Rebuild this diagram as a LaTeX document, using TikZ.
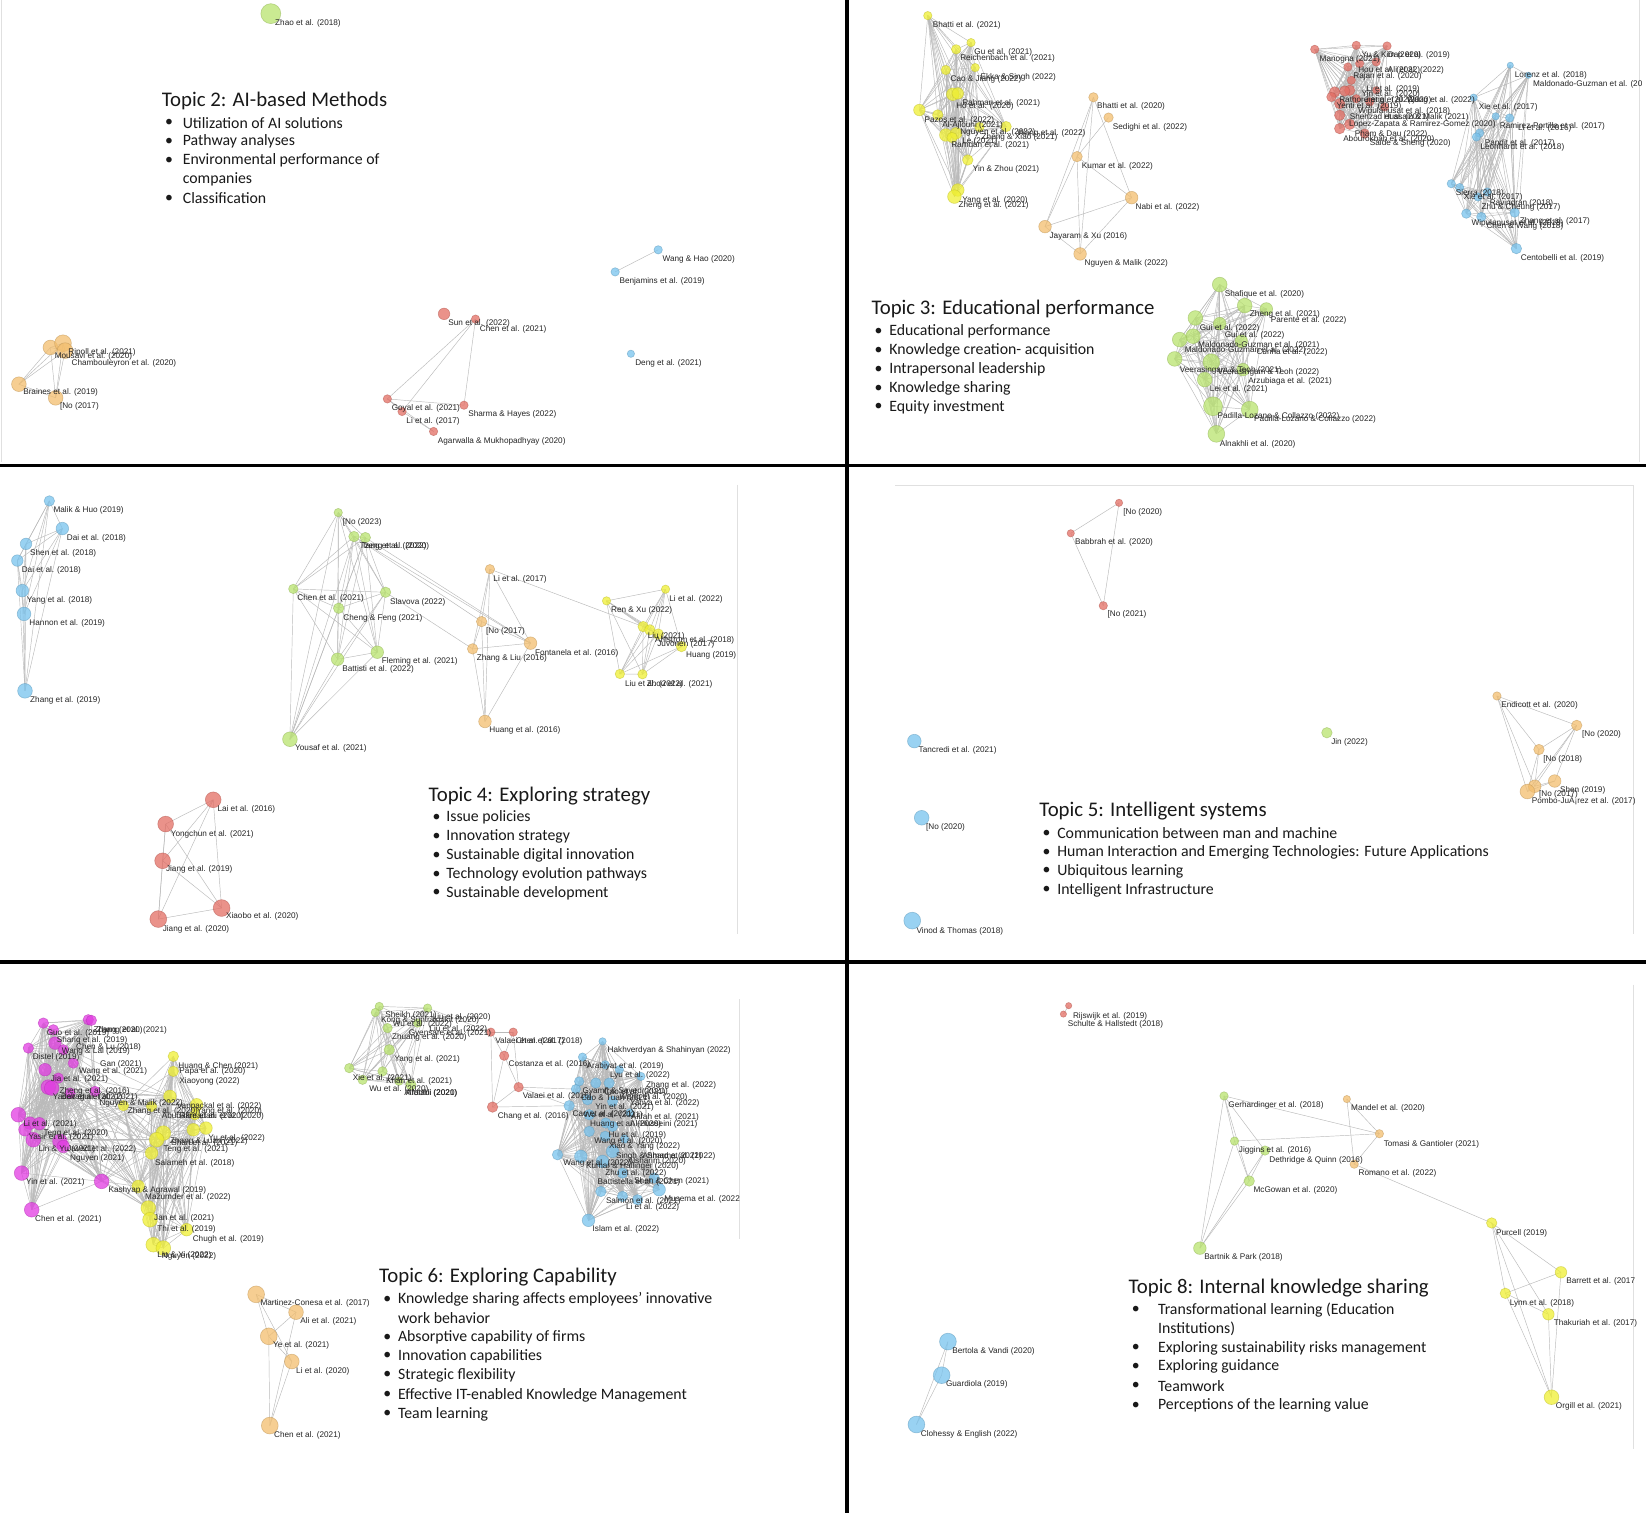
\documentclass[tikz,border=0pt]{standalone}
\usepackage{fontspec}
\setmainfont{Carlito}
\newfontfamily\labfont{Liberation Sans}
\pgfdeclarelayer{edgelayer}
\pgfsetlayers{edgelayer,main}
\definecolor{cG}{RGB}{185,228,110}
\definecolor{cY}{RGB}{240,240,50}
\definecolor{cO}{RGB}{243,190,110}
\definecolor{cR}{RGB}{228,110,100}
\definecolor{cB}{RGB}{120,195,238}
\definecolor{cM}{RGB}{226,60,226}
\tikzset{
 gnode/.style={circle,inner sep=0pt,fill opacity=0.75,draw opacity=0.55,line width=0.6pt},
 glab/.style={anchor=west,inner sep=0pt,font=\labfont\fontsize{8.2}{9}\selectfont,text=black!85},
 edge/.style={draw=black!27,line width=0.45pt},
 head/.style={anchor=west,inner sep=0pt,font=\fontsize{20.8}{24}\selectfont,text=black!90},
 btxt/.style={anchor=west,inner sep=0pt,font=\fontsize{15.8}{18}\selectfont,text=black!90},
 divider/.style={draw=black,line width=3.8pt},
 pframe/.style={draw=black!12,line width=0.8pt}
}
\newcommand\gnd[5]{\node[gnode,fill=#5,draw=#5!80!black,minimum size={2.1pt*#4}] (#1) at (#2,#3) {};}
\newcommand\glb[4]{\node[glab] (#1) at (#2,#3) {#4};}
\newcommand\meshall[1]{\foreach \pa [count=\ci] in {#1}{\foreach \pb [count=\cj] in {#1}{\ifnum\cj>\ci\relax\draw[edge] (\pa.center) -- (\pb.center);\fi}}}
\newcommand\crossedges[2]{\foreach \pa in {#1}{\foreach \pb in {#2}{\draw[edge] (\pa.center) -- (\pb.center);}}}
\newcommand\edg[1]{\foreach \pa/\pb in {#1}{\draw[edge] (\pa.center) -- (\pb.center);}}
\newcommand\bitem[5]{\node[btxt] (#1d) at (#2,#4) {•}; \node[btxt] (#1) at (#3,#4) {#5};}
\newcommand\bcont[4]{\node[btxt] (#1) at (#2,#3) {#4};}
\begin{document}
\begin{tikzpicture}[x=1.05pt,y=-1.05pt]
\useasboundingbox (0,0) rectangle (1568,1441);
\begin{pgfonlayer}{edgelayer}
\fill[white] (0,0) rectangle (1568,1441);
\end{pgfonlayer}
% light panel frames
\draw[pframe] (1.5,0) -- (1.5,440);
\draw[pframe] (1562,0) -- (1562,440);
\draw[pframe] (702,462) -- (702,890);
\draw[pframe] (853,462) -- (1556,462) -- (1556,890);
\draw[pframe] (704,952) -- (704,1180);
\draw[pframe] (1556,938) -- (1556,1380);
% dividers
\draw[divider] (806.5,0) -- (806.5,1441);
\draw[divider] (0,443.5) -- (1568,443.5);
\draw[divider] (0,916.5) -- (1568,916.5);

%%%%%%%%%%%%%%%% NODES %%%%%%%%%%%%%%%%
% Topic 2
\gnd{aZhao}{258}{13}{9.5}{cG}
\gnd{aMou}{48}{331}{7}{cO}
\gnd{aRip}{60}{327}{8}{cO}
\gnd{aCha}{62}{334}{7.5}{cO}
\gnd{aBra}{18}{366}{7}{cO}
\gnd{aNo}{53}{379}{7}{cO}
\gnd{aSun}{423}{299}{5.5}{cR}
\gnd{aChen}{453}{304}{4}{cR}
\gnd{aGoy}{369}{380}{4}{cR}
\gnd{aLi}{383}{392}{4}{cR}
\gnd{aSha}{442}{386}{4}{cR}
\gnd{aAga}{413}{411}{4}{cR}
\gnd{aWang}{627}{238}{4}{cB}
\gnd{aBen}{586}{259}{4}{cB}
\gnd{aDeng}{601}{337}{3.5}{cB}
% Topic 3
\gnd{bY1}{883.8}{14.9}{4}{cY}
\gnd{bY2}{925}{40.6}{4}{cY}
\gnd{bY3}{910.8}{47}{4.5}{cY}
\gnd{bY4}{901}{66.7}{4.5}{cY}
\gnd{bY5}{929}{64.4}{4}{cY}
\gnd{bY6}{907.6}{89.8}{6}{cY}
\gnd{bY7}{912.4}{89}{5.5}{cY}
\gnd{bY8}{875.8}{104.8}{5.5}{cY}
\gnd{bY9}{893.3}{109.5}{5}{cY}
\gnd{bY10}{901}{128.6}{6}{cY}
\gnd{bY11}{910.8}{127}{5.5}{cY}
\gnd{bY12}{907}{131}{5}{cY}
\gnd{bY13}{958.4}{120.6}{5}{cY}
\gnd{bY14}{921.9}{152.4}{5}{cY}
\gnd{bY15}{912.4}{181}{6}{cY}
\gnd{bY16}{909.2}{187.3}{6.5}{cY}
\gnd{bY17}{933}{121}{4.5}{cY}
\gnd{bO1}{1041.6}{92.7}{4.5}{cO}
\gnd{bO2}{1056}{112}{4.5}{cO}
\gnd{bO3}{1026}{149.2}{5}{cO}
\gnd{bO4}{1078}{188.3}{6}{cO}
\gnd{bO5}{995.5}{215.9}{6}{cO}
\gnd{bO6}{1028.9}{241.9}{6}{cO}
\gnd{bR1}{1252.4}{47}{4}{cR}
\gnd{bR2}{1292}{43.2}{4}{cR}
\gnd{bR3}{1321.3}{43.8}{4}{cR}
\gnd{bR4}{1311}{59}{4}{cR}
\gnd{bR5}{1284}{63.8}{4}{cR}
\gnd{bR6}{1295.2}{60.6}{4}{cR}
\gnd{bR7}{1287.3}{76.5}{4}{cR}
\gnd{bR8}{1285.7}{86}{5}{cR}
\gnd{bR9}{1281}{86.7}{5}{cR}
\gnd{bR10}{1271.4}{87.6}{5}{cR}
\gnd{bR11}{1268.3}{92.4}{4.5}{cR}
\gnd{bR12}{1276.2}{98.7}{5}{cR}
\gnd{bR13}{1292}{94}{4}{cR}
\gnd{bR14}{1304.8}{97.1}{4}{cR}
\gnd{bR15}{1319}{101.9}{4}{cR}
\gnd{bR16}{1276.2}{109.8}{5}{cR}
\gnd{bR17}{1285.7}{118.4}{5}{cR}
\gnd{bR18}{1276.2}{122.5}{5}{cR}
\gnd{bR19}{1300}{127.3}{4.5}{cR}
\gnd{bR20}{1311}{86}{3.5}{cR}
\gnd{bB1}{1438.7}{62.2}{3}{cB}
\gnd{bB2}{1456}{71.7}{3}{cB}
\gnd{bB3}{1403.8}{93}{3.5}{cB}
\gnd{bB4}{1424.8}{110.8}{3.5}{cB}
\gnd{bB5}{1438.1}{112.4}{4}{cB}
\gnd{bB6}{1409.5}{126.7}{4}{cB}
\gnd{bB7}{1406.4}{130.5}{4}{cB}
\gnd{bB8}{1382.5}{175}{4}{cB}
\gnd{bB9}{1390.5}{178.7}{4}{cB}
\gnd{bB10}{1407.9}{187.6}{4}{cB}
\gnd{bB11}{1416.8}{182.9}{4}{cB}
\gnd{bB12}{1396.8}{203.5}{4.5}{cB}
\gnd{bB13}{1411.1}{206.7}{4.5}{cB}
\gnd{bB14}{1442.9}{202.5}{4.5}{cB}
\gnd{bB15}{1444.5}{236.8}{5}{cB}
\gnd{bG1}{1161.9}{271.1}{7}{cG}
\gnd{bG2}{1185.7}{291.1}{7}{cG}
\gnd{bG3}{1206.3}{294.3}{6}{cG}
\gnd{bG4}{1138.7}{302.9}{7}{cG}
\gnd{bG5}{1161.9}{308.3}{6}{cG}
\gnd{bG6}{1136.5}{320.3}{7}{cG}
\gnd{bG7}{1123.8}{323.5}{7}{cG}
\gnd{bG8}{1182.5}{325.1}{6}{cG}
\gnd{bG9}{1119}{341.9}{7}{cG}
\gnd{bG10}{1153.9}{345.1}{8}{cG}
\gnd{bG11}{1184.1}{352.1}{6}{cG}
\gnd{bG12}{1147.6}{361.6}{7}{cG}
\gnd{bG13}{1155.5}{387}{9}{cG}
\gnd{bG14}{1190.5}{390.2}{8}{cG}
\gnd{bG15}{1158.7}{413.3}{8}{cG}
% Topic 4
\gnd{cB1}{47}{477.2}{5}{cB}
\gnd{cB2}{59.4}{503.5}{6}{cB}
\gnd{cB3}{24.8}{518.1}{5.5}{cB}
\gnd{cB4}{16.5}{534}{5.5}{cB}
\gnd{cB5}{21.3}{562.6}{6}{cB}
\gnd{cB6}{22.9}{584.8}{6.5}{cB}
\gnd{cB7}{23.8}{658.1}{7}{cB}
\gnd{cG1}{322.2}{488.3}{4}{cG}
\gnd{cG2}{337.2}{511.1}{5}{cG}
\gnd{cG3}{348}{512.1}{5}{cG}
\gnd{cG4}{279.4}{561}{4.5}{cG}
\gnd{cG5}{367.3}{564.2}{5}{cG}
\gnd{cG6}{322.6}{579.4}{5}{cG}
\gnd{cG7}{359.4}{621.3}{6}{cG}
\gnd{cG8}{321.6}{628}{6}{cG}
\gnd{cG9}{276.2}{704.2}{7}{cG}
\gnd{cO1}{466.7}{542.2}{4.5}{cO}
\gnd{cO2}{458.8}{592.1}{5}{cO}
\gnd{cO3}{450.2}{618.1}{5}{cO}
\gnd{cO4}{505.4}{612.7}{6}{cO}
\gnd{cO5}{462}{687.3}{6}{cO}
\gnd{cY1}{577.8}{572.4}{4}{cY}
\gnd{cY2}{634}{561.3}{4}{cY}
\gnd{cY3}{612.7}{596.9}{5}{cY}
\gnd{cY4}{619}{600}{5}{cY}
\gnd{cY8}{627}{604}{5}{cY}
\gnd{cY5}{649.2}{615.9}{5}{cY}
\gnd{cY6}{590.5}{642}{4.5}{cY}
\gnd{cY7}{612}{642.3}{4.5}{cY}
\gnd{cR1}{203.1}{761.9}{7.5}{cR}
\gnd{cR2}{157.8}{785}{7.5}{cR}
\gnd{cR3}{154.9}{820}{7.5}{cR}
\gnd{cR4}{211.1}{865}{8}{cR}
\gnd{cR5}{150.8}{875.5}{8}{cR}
% Topic 5
\gnd{dR1}{1066}{479}{3.5}{cR}
\gnd{dR2}{1020}{508}{3.5}{cR}
\gnd{dR3}{1051}{577}{4}{cR}
\gnd{dB1}{871}{706}{6.5}{cB}
\gnd{dB2}{878}{779}{7}{cB}
\gnd{dB3}{869}{877}{8}{cB}
\gnd{dG1}{1264}{698}{5}{cG}
\gnd{dO1}{1426}{663}{4}{cO}
\gnd{dO2}{1502}{691}{5}{cO}
\gnd{dO3}{1466}{714}{5}{cO}
\gnd{dO4}{1481}{744}{6}{cO}
\gnd{dO5}{1462}{749}{6}{cO}
\gnd{dO6}{1455}{754}{7}{cO}
% Topic 6
\gnd{eM1}{41.3}{974.6}{5}{cM}
\gnd{eM2}{84.1}{971.4}{5}{cM}
\gnd{eM3}{87}{972}{5}{cM}
\gnd{eM4}{50.8}{981}{5}{cM}
\gnd{eM5}{52.4}{993.7}{6}{cM}
\gnd{eM6}{27}{998.4}{5}{cM}
\gnd{eM7}{60.3}{1000}{5}{cM}
\gnd{eM8}{69.8}{1012.7}{5}{cM}
\gnd{eM9}{42.9}{1019}{6}{cM}
\gnd{eM10}{55.6}{1027}{5}{cM}
\gnd{eM11}{46}{1035.6}{7}{cM}
\gnd{eM12}{49.2}{1036.5}{7}{cM}
\gnd{eM13}{66.7}{1041.3}{5}{cM}
\gnd{eM14}{90.5}{1039.7}{5}{cM}
\gnd{eM15}{17.5}{1061.9}{7}{cM}
\gnd{eM16}{28.6}{1069.9}{6}{cM}
\gnd{eM17}{37.5}{1070.5}{6}{cM}
\gnd{eM18}{23.8}{1076.2}{6}{cM}
\gnd{eM19}{31.7}{1085.7}{7}{cM}
\gnd{eM20}{57.1}{1087.3}{7}{cM}
\gnd{eM21}{60.3}{1092.1}{6}{cM}
\gnd{eM22}{20.6}{1117.5}{7}{cM}
\gnd{eM23}{96.8}{1125.4}{7}{cM}
\gnd{eM24}{30.2}{1152.4}{7}{cM}
\gnd{eY1}{165.1}{1006.3}{5}{cY}
\gnd{eY2}{165.1}{1020.6}{5}{cY}
\gnd{eY3}{161.9}{1044.4}{6}{cY}
\gnd{eY4}{117.5}{1053.3}{5}{cY}
\gnd{eY5}{144.4}{1054}{5}{cY}
\gnd{eY6}{187.3}{1052.4}{6}{cY}
\gnd{eY7}{185.7}{1061.9}{5}{cY}
\gnd{eY8}{155.6}{1079.4}{7}{cY}
\gnd{eY9}{149.2}{1085.7}{7}{cY}
\gnd{eY10}{184.1}{1076.2}{6}{cY}
\gnd{eY11}{196.2}{1074.6}{6}{cY}
\gnd{eY12}{144.4}{1098.4}{6}{cY}
\gnd{eY13}{131.7}{1130.2}{6}{cY}
\gnd{eY14}{141.3}{1150.8}{7}{cY}
\gnd{eY15}{142.9}{1161.9}{7}{cY}
\gnd{eY16}{177.8}{1171.4}{6}{cY}
\gnd{eY17}{146}{1185.7}{7}{cY}
\gnd{eY18}{155.6}{1188.9}{7}{cY}
\gnd{eG1}{361.3}{958.7}{4}{cG}
\gnd{eG2}{357.5}{964.5}{4}{cG}
\gnd{eG3}{407.3}{960.3}{4}{cG}
\gnd{eG4}{397.8}{974.6}{4}{cG}
\gnd{eG5}{369.2}{979.4}{4.5}{cG}
\gnd{eG6}{370.8}{1000}{5}{cG}
\gnd{eG7}{364.4}{1020.6}{4.5}{cG}
\gnd{eG8}{332.7}{1017.5}{4.5}{cG}
\gnd{eG9}{345.4}{1028.6}{4.5}{cG}
\gnd{eG10}{391.4}{1033.3}{5}{cG}
\gnd{eG11}{380}{1030}{4}{cG}
\gnd{eR1}{467.6}{983.2}{4}{cR}
\gnd{eR2}{488.9}{983.2}{4}{cR}
\gnd{eR3}{480.3}{1005.7}{4.5}{cR}
\gnd{eR4}{494}{1035.6}{4.5}{cR}
\gnd{eR5}{469.2}{1054.6}{5}{cR}
\gnd{eB1}{574}{992}{3.5}{cB}
\gnd{eB2}{554.9}{1007}{4}{cB}
\gnd{eB3}{576.5}{1014.3}{4}{cB}
\gnd{eB4}{590}{1019}{4}{cB}
\gnd{eB5}{610.5}{1025.4}{4}{cB}
\gnd{eB6}{551.7}{1030.2}{4.5}{cB}
\gnd{eB7}{548.6}{1037.5}{4.5}{cB}
\gnd{eB8}{567.6}{1031.7}{5}{cB}
\gnd{eB9}{580.3}{1031.7}{5}{cB}
\gnd{eB10}{542.2}{1053.3}{5}{cB}
\gnd{eB11}{559.7}{1047.6}{5}{cB}
\gnd{eB12}{583.5}{1049.2}{5}{cB}
\gnd{eB13}{561.3}{1061.9}{5}{cB}
\gnd{eB14}{577.1}{1069.8}{5}{cB}
\gnd{eB15}{561.3}{1077.8}{5}{cB}
\gnd{eB16}{583.5}{1073}{5}{cB}
\gnd{eB17}{576.5}{1082.5}{5}{cB}
\gnd{eB18}{531.1}{1100}{5}{cB}
\gnd{eB19}{553.3}{1101.6}{6}{cB}
\gnd{eB20}{574}{1106.4}{6}{cB}
\gnd{eB21}{583.5}{1096.8}{6}{cB}
\gnd{eB22}{593}{1117.5}{5}{cB}
\gnd{eB23}{623.2}{1122.2}{5}{cB}
\gnd{eB24}{627.9}{1133.3}{6}{cB}
\gnd{eB25}{572.4}{1135}{5}{cB}
\gnd{eB26}{593}{1139.7}{5}{cB}
\gnd{eB27}{607.3}{1142.9}{5}{cB}
\gnd{eB28}{560.6}{1162.5}{6}{cB}
\gnd{eB29}{600}{1060}{4}{cB}
\gnd{eB30}{595}{1085}{4}{cB}
\gnd{eO1}{244}{1233}{8}{cO}
\gnd{eO2}{282}{1250}{7}{cO}
\gnd{eO3}{256}{1273}{8}{cO}
\gnd{eO4}{278}{1297}{7}{cO}
\gnd{eO5}{257}{1358}{8}{cO}
% Topic 8
\gnd{fR1}{1018}{958}{3}{cR}
\gnd{fR2}{1013}{966}{3}{cR}
\gnd{fG1}{1166}{1044}{4}{cG}
\gnd{fG2}{1176}{1087}{4}{cG}
\gnd{fG3}{1205}{1096}{4.5}{cG}
\gnd{fG4}{1190}{1125}{5}{cG}
\gnd{fG5}{1143}{1189}{6}{cG}
\gnd{fO1}{1283}{1047}{3.5}{cO}
\gnd{fO2}{1314}{1080}{4}{cO}
\gnd{fO3}{1290}{1109}{4}{cO}
\gnd{fY1}{1421}{1165}{5}{cY}
\gnd{fY2}{1487}{1212}{5.5}{cY}
\gnd{fY3}{1434}{1232}{5}{cY}
\gnd{fY4}{1475}{1252}{5.5}{cY}
\gnd{fY5}{1478}{1331}{7}{cY}
\gnd{fB1}{903}{1278}{8}{cB}
\gnd{fB2}{897}{1310}{8}{cB}
\gnd{fB3}{873}{1357}{8}{cB}

%%%%%%%%%%%%%%%% EDGES (one layer) %%%%%%%%%%%%%%%%
\begin{pgfonlayer}{edgelayer}
\meshall{aMou,aRip,aCha,aBra,aNo}
\edg{aChen/aGoy,aChen/aLi,aChen/aSha,aGoy/aSha,aGoy/aLi,aGoy/aAga,aLi/aAga,aWang/aBen}
\meshall{bY1,bY2,bY3,bY4,bY5,bY6,bY7,bY8,bY9,bY10,bY11,bY12,bY13,bY14,bY15,bY16,bY17}
\edg{bO1/bO3,bO1/bO4,bO1/bO5,bO1/bO6,bO2/bO3,bO3/bO4,bO3/bO5,bO3/bO6,bO4/bO5,bO4/bO6,bO5/bO6}
\meshall{bR1,bR2,bR3,bR4,bR5,bR6,bR7,bR8,bR9,bR10,bR11,bR12,bR13,bR14,bR15,bR16,bR17,bR18,bR19,bR20}
\meshall{bB1,bB2,bB3,bB4,bB5,bB6,bB7,bB8,bB9,bB10,bB11,bB12,bB13,bB14,bB15}
\meshall{bG1,bG2,bG3,bG4,bG5,bG6,bG7,bG8,bG9,bG10,bG11,bG12,bG13,bG14,bG15}
\meshall{cB1,cB2,cB3,cB4,cB5,cB6,cB7}
\meshall{cG1,cG2,cG3,cG4,cG5,cG6,cG7,cG8,cG9}
\meshall{cO1,cO2,cO3,cO4,cO5}
\edg{cG2/cO2,cG2/cO4,cG3/cO4,cG5/cO3,cO1/cY3}
\meshall{cY1,cY2,cY3,cY4,cY8,cY5,cY6,cY7}
\meshall{cR1,cR2,cR3,cR4,cR5}
\meshall{dR1,dR2,dR3}
\edg{dO1/dO2,dO1/dO3,dO1/dO6,dO1/dO5,dO2/dO3,dO2/dO5,dO2/dO6,dO2/dO4,dO3/dO6,dO3/dO5,dO4/dO5,dO4/dO6}
\meshall{eM1,eM2,eM3,eM4,eM5,eM6,eM7,eM8,eM9,eM10,eM11,eM12,eM13,eM14,eM15,eM16,eM17,eM18,eM19,eM20,eM21,eM22,eM23,eM24}
\meshall{eY1,eY2,eY3,eY4,eY5,eY6,eY7,eY8,eY9,eY10,eY11,eY12,eY13,eY14,eY15,eY16,eY17,eY18}
\crossedges{eM5,eM9,eM11,eM13,eM14,eM15,eM19,eM20,eM23}{eY3,eY4,eY5,eY9,eY12,eY13,eY14}
\meshall{eG1,eG2,eG3,eG4,eG5,eG6,eG7,eG8,eG9,eG10,eG11}
\edg{eR1/eR2,eR1/eR3,eR1/eR5,eR2/eR3,eR2/eR4,eR3/eR4,eR3/eR5,eR4/eR5,eG3/eR1}
\meshall{eB1,eB2,eB3,eB4,eB5,eB6,eB7,eB8,eB9,eB10,eB11,eB12,eB13,eB14,eB15,eB16,eB17,eB18,eB19,eB20,eB21,eB22,eB23,eB24,eB25,eB26,eB27,eB28,eB29,eB30}
\edg{eR4/eB10,eR5/eB10,eR4/eB7}
\edg{eO1/eO3,eO1/eO4,eO2/eO3,eO2/eO5,eO3/eO5,eO4/eO5,eO1/eO2,eO3/eO4}
\edg{fR1/fR2,fG1/fG2,fG1/fG3,fG1/fG4,fG1/fG5,fG1/fO2,fG2/fO2,fG2/fG4,fG2/fG5,fG3/fG5,fG3/fG4,fG4/fG5,fO1/fO2,fO1/fO3,fO2/fO3,fO3/fY1,fY1/fY2,fY1/fY3,fY1/fY4,fY1/fY5,fY2/fY3,fY2/fY5,fY3/fY4,fY3/fY5,fY4/fY5,fB1/fB2,fB2/fB3,fB1/fB3}
\end{pgfonlayer}

%%%%%%%%%%%%%%%% LABELS AND TEXT %%%%%%%%%%%%%%%%
% Topic 2
\glb{aZhaoT}{262}{22}{Zhao et al. (2018)}
\node[head] (h2) at (154,96) {Topic 2: AI-based Methods};
\bitem{b2a}{157}{174}{117}{Utilization of AI solutions}
\bitem{b2b}{157}{174}{135}{Pathway analyses}
\bitem{b2c}{157}{174}{153}{Environmental performance of}
\bcont{b2d}{174}{171}{companies}
\bitem{b2e}{157}{174}{189}{Classification}
\glb{aRipT}{65}{336}{Ripoll et al. (2021)}
\glb{aMouT}{52}{339.5}{Mousavi et al. (2020)}
\glb{aChaT}{68}{346}{Chambouleyron et al. (2020)}
\glb{aBraT}{22}{374}{Braines et al. (2019)}
\glb{aNoT}{57}{387}{[No (2017)}
\glb{aSunT}{427}{308}{Sun et al. (2022)}
\glb{aChenT}{457}{314}{Chen et al. (2021)}
\glb{aGoyT}{373}{389}{Goyal et al. (2021)}
\glb{aLiT}{387}{401}{Li et al. (2017)}
\glb{aShaT}{446}{395}{Sharma \& Hayes (2022)}
\glb{aAgaT}{417}{420}{Agarwalla \& Mukhopadhyay (2020)}
\glb{aWangT}{631}{247}{Wang \& Hao (2020)}
\glb{aBenT}{590}{268}{Benjamins et al. (2019)}
\glb{aDengT}{605}{346}{Deng et al. (2021)}
% Topic 3
\glb{bYt1}{888.5}{23.8}{Bhatti et al. (2021)}
\glb{bYt2}{928}{49.8}{Gu et al. (2021)}
\glb{bYt3}{914.6}{55.6}{Reichenbach et al. (2021)}
\glb{bYt4}{905.4}{75.2}{Cao \& Jiang (2022)}
\glb{bYt5}{934}{74}{Ekka \& Singh (2022)}
\glb{bYt6}{910.8}{101}{Ho et al. (2020)}
\glb{bYt7}{916.5}{98.7}{Rahman et al. (2021)}
\glb{bYt8}{880.6}{114.3}{Pazos et al. (2022)}
\glb{bYt9}{897.4}{119.7}{Al-Ajlouni (2021)}
\glb{bYt10}{914.6}{126}{Nguyen et al. (2022)}
\glb{bYt11}{935}{130.5}{Zheng \& Xiao (2021)}
\glb{bYt12}{969}{127.5}{Wang et al. (2022)}
\glb{bYt13}{916.5}{134.5}{Le (2021)}
\glb{bYt14}{906}{138.5}{Ramdan et al. (2021)}
\glb{bYt15}{926.6}{161}{Yin \& Zhou (2021)}
\glb{bYt16}{916.5}{190.5}{Yang et al. (2020)}
\glb{bYt17}{913}{196}{Zheng et al. (2021)}
\glb{bOt1}{1045}{101.6}{Bhatti et al. (2020)}
\glb{bOt2}{1060}{121.3}{Sedighi et al. (2022)}
\glb{bOt3}{1030.5}{158.7}{Kumar et al. (2022)}
\glb{bOt4}{1081.6}{197.5}{Nabi et al. (2022)}
\glb{bOt5}{999.7}{225.4}{Jayaram \& Xu (2016)}
\glb{bOt6}{1033}{250.8}{Nguyen \& Malik (2022)}
\glb{bRt1}{1257}{56.5}{Manogna (2021)}
\glb{bRt2}{1296.8}{52.7}{Yu \& Kim (2020)}
\glb{bRt3}{1322}{52.7}{Dao et al. (2019)}
\glb{bRt4}{1293.7}{67}{Hou et al. (2022)}
\glb{bRt5}{1322}{67}{Ali et al. (2022)}
\glb{bRt6}{1289}{72.7}{Rajan et al. (2020)}
\glb{bRt7}{1301.6}{85}{Li et al. (2019)}
\glb{bRt8}{1296.8}{89.8}{Yin et al. (2020)}
\glb{bRt9}{1275.6}{95.6}{Rathore et al. (2022)}
\glb{bRt10}{1300}{95.6}{Jiang et al. (2020)}
\glb{bRt11}{1340}{95.6}{Wang et al. (2022)}
\glb{bRt12}{1273}{101.3}{Yenti et al. (2019)}
\glb{bRt13}{1293.7}{105.7}{Wipulanusat et al. (2018)}
\glb{bRt14}{1285.7}{112}{Shehzad et al. (2021)}
\glb{bRt15}{1318}{112}{Hussain \& Malik (2021)}
\glb{bRt16}{1285.1}{118.4}{Lopez-Zapata \& Ramirez-Gomez (2020)}
\glb{bRt17}{1290.5}{128}{Pham \& Dau (2022)}
\glb{bRt18}{1279.4}{132.5}{Abourokbah et al. (2020)}
\glb{bRt19}{1304.8}{136.2}{Saide \& Sheng (2020)}
\glb{bBt1}{1442.9}{71.7}{Lorenz et al. (2018)}
\glb{bBt2}{1460.3}{80.6}{Maldonado-Guzman et al. (20}
\glb{bBt3}{1408.6}{102.5}{Xie et al. (2017)}
\glb{bBt4}{1428.6}{120.3}{Ramirez-Portilla et al. (2017)}
\glb{bBt5}{1446}{122.5}{Li et al. (2016)}
\glb{bBt6}{1414.3}{136.2}{Pandit et al. (2017)}
\glb{bBt7}{1410.2}{140}{Leonhardt et al. (2018)}
\glb{bBt8}{1386.7}{184.4}{Sierra (2018)}
\glb{bBt9}{1394.3}{188.3}{Xie et al. (2017)}
\glb{bBt10}{1419}{193.3}{Ravindran (2018)}
\glb{bBt11}{1411.1}{197.8}{Zhu \& Cheung (2017)}
\glb{bBt12}{1401.6}{213}{Wipulanusat et al. (2018)}
\glb{bBt13}{1415.9}{215.6}{Chen \& Wang (2018)}
\glb{bBt14}{1447.6}{210.8}{Zhang et al. (2017)}
\glb{bBt15}{1448.6}{246.3}{Centobelli et al. (2019)}
\glb{bGt1}{1166.6}{280.6}{Shafique et al. (2020)}
\glb{bGt2}{1190.5}{299.7}{Zheng et al. (2021)}
\glb{bGt3}{1210.5}{305}{Parente et al. (2022)}
\glb{bGt4}{1142.8}{312.4}{Gui et al. (2022)}
\glb{bGt5}{1166.6}{319.7}{Gui et al. (2022)}
\glb{bGt6}{1141.2}{329.2}{Maldonado-Guzman et al. (2021)}
\glb{bGt7}{1128.5}{333.7}{Maldonado-Guzman et al. (2022)}
\glb{bGt8}{1196.8}{335.6}{Cunha et al. (2022)}
\glb{bGt9}{1123.8}{352.7}{Veerasingam \& Teoh (2021)}
\glb{bGt10}{1159.7}{355.2}{Veerasingam \& Teoh (2022)}
\glb{bGt11}{1188.9}{363.2}{Arzubiaga et al. (2021)}
\glb{bGt12}{1152.4}{370.5}{Lei et al. (2021)}
\glb{bGt13}{1159.7}{396.5}{Padilla-Lozano \& Collazzo (2022)}
\glb{bGt14}{1194.6}{399.7}{Padilla-Lozano \& Collazzo (2022)}
\glb{bGt15}{1161.9}{422.9}{Alnakhli et al. (2020)}
\node[head] (h3) at (830,294) {Topic 3: Educational performance};
\bitem{b3a}{833}{847}{316}{Educational performance}
\bitem{b3b}{833}{847}{334}{Knowledge creation- acquisition}
\bitem{b3c}{833}{847}{352}{Intrapersonal leadership}
\bitem{b3d}{833}{847}{370}{Knowledge sharing}
\bitem{b3e}{833}{847}{388}{Equity investment}
% Topic 4
\glb{cBt1}{50.8}{486.4}{Malik \& Huo (2019)}
\glb{cBt2}{63.5}{512.7}{Dai et al. (2018)}
\glb{cBt3}{28.6}{527}{Shen et al. (2018)}
\glb{cBt4}{20.6}{542.9}{Dai et al. (2018)}
\glb{cBt5}{25.4}{571.5}{Yang et al. (2018)}
\glb{cBt6}{27.9}{593.7}{Hannon et al. (2019)}
\glb{cBt7}{28.6}{667.3}{Zhang et al. (2019)}
\glb{cGt1}{326.4}{497.5}{[No (2023)}
\glb{cGt2}{342.3}{520.7}{Tzeng et al. (2020)}
\glb{cGt3}{344.5}{520.7}{Tang et al. (2022)}
\glb{cGt4}{283.2}{569.9}{Chen et al. (2021)}
\glb{cGt5}{371.5}{573.7}{Slavova (2022)}
\glb{cGt6}{327}{588.9}{Cheng \& Feng (2021)}
\glb{cGt7}{363.5}{630.2}{Fleming et al. (2021)}
\glb{cGt8}{326}{637.5}{Battisti et al. (2022)}
\glb{cGt9}{281}{712.7}{Yousaf et al. (2021)}
\glb{cOt1}{469.9}{551.5}{Li et al. (2017)}
\glb{cOt2}{462.9}{601}{[No (2017)}
\glb{cOt3}{454}{627.6}{Zhang \& Liu (2016)}
\glb{cOt4}{509.5}{622.2}{Fontanela et al. (2016)}
\glb{cOt5}{466}{695.9}{Huang et al. (2016)}
\glb{cYt1}{582}{581.6}{Ren \& Xu (2022)}
\glb{cYt2}{637.5}{570.5}{Li et al. (2022)}
\glb{cYt3}{616.9}{606.4}{Liu (2021)}
\glb{cYt4}{623.8}{610.2}{Ahlstrom et al. (2018)}
\glb{cYt5}{626}{613.6}{Juvonen (2017)}
\glb{cYt6}{653.4}{624.5}{Huang (2019)}
\glb{cYt7}{595.2}{651.5}{Liu et al. (2022)}
\glb{cYt8}{616}{651.5}{Zhou et al. (2021)}
\glb{cRt1}{207}{771.4}{Lai et al. (2016)}
\glb{cRt2}{162.5}{794.6}{Yongchun et al. (2021)}
\glb{cRt3}{158}{828.6}{Jiang et al. (2019)}
\glb{cRt4}{215.2}{873}{Xiaobo et al. (2020)}
\glb{cRt5}{154.9}{885}{Jiang et al. (2020)}
\node[head] (h4) at (408,758) {Topic 4: Exploring strategy};
\bitem{b4a}{412}{425}{779}{Issue policies}
\bitem{b4b}{412}{425}{797}{Innovation strategy}
\bitem{b4c}{412}{425}{815}{Sustainable digital innovation}
\bitem{b4d}{412}{425}{833}{Technology evolution pathways}
\bitem{b4e}{412}{425}{851}{Sustainable development}
% Topic 5
\glb{dRt1}{1070}{488}{[No (2020)}
\glb{dRt2}{1024}{517}{Babbrah et al. (2020)}
\glb{dRt3}{1055}{585}{[No (2021)}
\glb{dBt1}{875}{715}{Tancredi et al. (2021)}
\glb{dBt2}{882}{788}{[No (2020)}
\glb{dBt3}{873}{887}{Vinod \& Thomas (2018)}
\glb{dGt1}{1268}{707}{Jin (2022)}
\glb{dOt1}{1430}{672}{Endicott et al. (2020)}
\glb{dOt2}{1507}{700}{[No (2020)}
\glb{dOt3}{1470}{723}{[No (2018)}
\glb{dOt4}{1486}{753}{Shen (2019)}
\glb{dOt5}{1466}{757}{[No (2017)}
\glb{dOt6}{1459}{762.5}{Pombo-JuÃ¡rez et al. (2017)}
\node[head] (h5) at (990,773) {Topic 5: Intelligent systems};
\bitem{b5a}{993}{1007}{794}{Communication between man and machine}
\bitem{b5b}{993}{1007}{812}{Human Interaction and Emerging Technologies: Future Applications}
\bitem{b5c}{993}{1007}{830}{Ubiquitous learning}
\bitem{b5d}{993}{1007}{848}{Intelligent Infrastructure}
% Topic 6
\glb{eMt1}{88.9}{981.6}{Zhang (2020)}
\glb{eMt2}{92}{981.6}{Zhang et al. (2021)}
\glb{eMt3}{44.4}{984.1}{Guo et al. (2019)}
\glb{eMt4}{54}{991.1}{Shariq et al. (2019)}
\glb{eMt5}{72.4}{997.8}{Chen \& Lu (2018)}
\glb{eMt6}{58.7}{1001.6}{Wang \& Lai (2019)}
\glb{eMt7}{31.1}{1007}{Distel (2019)}
\glb{eMt8}{95.2}{1014.3}{Gan (2021)}
\glb{eMt9}{75.2}{1020.7}{Wang et al. (2021)}
\glb{eMt10}{48.3}{1028}{Jia et al. (2021)}
\glb{eMt11}{56.5}{1040}{Zheng et al. (2016)}
\glb{eMt12}{50.2}{1045}{Yadav et al. (2021)}
\glb{eMt13}{58}{1045}{Beltagui et al. (2021)}
\glb{eMt14}{22.2}{1071.4}{Li et al. (2021)}
\glb{eMt15}{41.3}{1080}{Teng et al. (2020)}
\glb{eMt16}{27}{1083.2}{Yasir et al. (2021)}
\glb{eMt17}{36.5}{1094.6}{Lin \& Yu (2021)}
\glb{eMt18}{64}{1094.6}{Javed et al. (2022)}
\glb{eMt19}{66.7}{1103.2}{Nguyen (2021)}
\glb{eMt20}{24.8}{1126.4}{Yin et al. (2021)}
\glb{eMt21}{33.3}{1161.9}{Chen et al. (2021)}
\glb{eYt1}{169.8}{1015.9}{Huang \& Chen (2021)}
\glb{eYt2}{170.8}{1020.8}{Papa et al. (2020)}
\glb{eYt3}{170.8}{1030.2}{Xiaoyong (2022)}
\glb{eYt4}{94.6}{1050.8}{Nguyen \& Malik (2022)}
\glb{eYt5}{168.3}{1054}{Vanpackal et al. (2022)}
\glb{eYt6}{121.6}{1058.8}{Zhang et al. (2020)}
\glb{eYt7}{187}{1058.8}{Yang et al. (2020)}
\glb{eYt8}{154}{1063.5}{Abubakre et al. (2020)}
\glb{eYt9}{171}{1063.5}{Ramadani et al. (2020)}
\glb{eYt10}{198.4}{1084.1}{Yu et al. (2022)}
\glb{eYt11}{161.9}{1087.3}{Zhang \& Luan (2022)}
\glb{eYt12}{163}{1089}{Shan et al. (2021)}
\glb{eYt13}{155.6}{1095.2}{Teng et al. (2021)}
\glb{eYt14}{147.6}{1108}{Salameh et al. (2018)}
\glb{eYt15}{103.2}{1134}{Kashyap \& Agrawal (2019)}
\glb{eYt16}{138.1}{1140.3}{Mazumder et al. (2022)}
\glb{eYt17}{146.7}{1161}{Jan et al. (2021)}
\glb{eYt18}{149.8}{1171.4}{Thi et al. (2019)}
\glb{eYt19}{183.5}{1181}{Chugh et al. (2019)}
\glb{eYt20}{149.8}{1196.2}{Lin \& Yi (2022)}
\glb{eYt21}{154}{1196.8}{Nguyen (2022)}
\glb{eGt1}{367}{967.3}{Sheikh (2021)}
\glb{eGt2}{412.1}{968.9}{Liu et al. (2020)}
\glb{eGt3}{362.9}{972.1}{Kong \& Suntrakulkit (2020)}
\glb{eGt4}{374}{976.2}{Wu et al. (2022)}
\glb{eGt5}{408.9}{980.3}{Liu et al. (2022)}
\glb{eGt6}{389.2}{984.8}{Gyensare et al. (2021)}
\glb{eGt7}{373.3}{988}{Zhuang et al. (2020)}
\glb{eGt8}{375.6}{1009.5}{Yang et al. (2021)}
\glb{eGt9}{335.9}{1027}{Xie et al. (2021)}
\glb{eGt10}{367.6}{1030.2}{Khan et al. (2021)}
\glb{eGt11}{351.7}{1037.5}{Wu et al. (2020)}
\glb{eGt12}{385.1}{1041.3}{Alfadhli (2020)}
\glb{eGt13}{386.7}{1041.8}{Afolabi (2021)}
\glb{eRt1}{471.7}{992.1}{Valaei et al. (2017)}
\glb{eRt2}{491.4}{992.1}{Chen et al. (2018)}
\glb{eRt3}{484.4}{1014.3}{Costanza et al. (2016)}
\glb{eRt4}{497.8}{1044.4}{Valaei et al. (2016)}
\glb{eRt5}{474}{1063.5}{Chang et al. (2016)}
\glb{eBt1}{578.7}{1000.6}{Hakhverdyan \& Shahinyan (2022)}
\glb{eBt2}{558.7}{1015.9}{Arabiyat et al. (2019)}
\glb{eBt3}{581}{1024.8}{Lyu et al. (2022)}
\glb{eBt4}{615.2}{1034.3}{Zhang et al. (2022)}
\glb{eBt5}{554.9}{1039.7}{Gyamfi \& Sayed (2021)}
\glb{eBt6}{575}{1040.2}{Cao et al. (2021)}
\glb{eBt7}{553.3}{1046}{Cao \& Tuan (2021)}
\glb{eBt8}{590}{1045.5}{Wang et al. (2020)}
\glb{eBt9}{600}{1050.8}{Yahya et al. (2022)}
\glb{eBt10}{567}{1055}{Yin et al. (2021)}
\glb{eBt11}{545.4}{1061.9}{Cao et al. (2021)}
\glb{eBt12}{556}{1062.4}{Wu et al. (2021)}
\glb{eBt13}{601}{1064.1}{Afifah et al. (2021)}
\glb{eBt14}{562}{1071.5}{Huang et al. (2020)}
\glb{eBt15}{600}{1071.5}{Al-Husseini (2021)}
\glb{eBt16}{579.7}{1082}{Hu et al. (2019)}
\glb{eBt17}{566}{1087.3}{Wang et al. (2020)}
\glb{eBt18}{580}{1092.5}{Xiao \& Yang (2022)}
\glb{eBt19}{586.7}{1101.6}{Singh \& Sharma (2021)}
\glb{eBt20}{612}{1101.6}{Ahmad et al. (2022)}
\glb{eBt21}{598}{1106}{Alsharim (2020)}
\glb{eBt22}{536.5}{1108.6}{Wang et al. (2022)}
\glb{eBt23}{558.1}{1111.1}{Kumar \& Hallinger (2020)}
\glb{eBt24}{576.5}{1117.5}{Zhu et al. (2022)}
\glb{eBt25}{569.2}{1126.4}{Battistella et al. (2021)}
\glb{eBt26}{604}{1125.4}{Shen \& Chen (2021)}
\glb{eBt27}{577.1}{1144.4}{Salmon et al. (2021)}
\glb{eBt28}{632.7}{1142.2}{Musema et al. (2022}
\glb{eBt29}{596.2}{1149.9}{Li et al. (2022)}
\glb{eBt30}{564.4}{1171.4}{Islam et al. (2022)}
\glb{eOt1}{248}{1242}{Martinez-Conesa et al. (2017)}
\glb{eOt2}{286}{1259}{Ali et al. (2021)}
\glb{eOt3}{260}{1282}{Ye et al. (2021)}
\glb{eOt4}{282}{1306}{Li et al. (2020)}
\glb{eOt5}{261}{1367}{Chen et al. (2021)}
\node[head] (h6) at (361,1217) {Topic 6: Exploring Capability};
\bitem{b6a}{365}{379}{1238}{Knowledge sharing affects employees' innovative}
\bcont{b6b}{379}{1256}{work behavior}
\bitem{b6c}{365}{379}{1274}{Absorptive capability of firms}
\bitem{b6d}{365}{379}{1292}{Innovation capabilities}
\bitem{b6e}{365}{379}{1310}{Strategic flexibility}
\bitem{b6f}{365}{379}{1329}{Effective IT-enabled Knowledge Management}
\bitem{b6g}{365}{379}{1347}{Team learning}
% Topic 8
\glb{fRt1}{1022}{968}{Rijswijk et al. (2019)}
\glb{fRt2}{1017}{976}{Schulte \& Hallstedt (2018)}
\glb{fGt1}{1170}{1053}{Gerhardinger et al. (2018)}
\glb{fGt2}{1180}{1096}{Jiggins et al. (2016)}
\glb{fGt3}{1209}{1105}{Dethridge \& Quinn (2016)}
\glb{fGt4}{1194}{1134}{McGowan et al. (2020)}
\glb{fGt5}{1147}{1198}{Bartnik \& Park (2018)}
\glb{fOt1}{1287}{1056}{Mandel et al. (2020)}
\glb{fOt2}{1318}{1090}{Tomasi \& Gantioler (2021)}
\glb{fOt3}{1294}{1118}{Romano et al. (2022)}
\glb{fYt1}{1425}{1175}{Purcell (2019)}
\glb{fYt2}{1492}{1221}{Barrett et al. (2017}
\glb{fYt3}{1438}{1242}{Lynn et al. (2018)}
\glb{fYt4}{1480}{1261}{Thakuriah et al. (2017)}
\glb{fYt5}{1482}{1340}{Orgill et al. (2021)}
\glb{fBt1}{907}{1287}{Bertola \& Vandi (2020)}
\glb{fBt2}{901}{1319}{Guardiola (2019)}
\glb{fBt3}{877}{1366}{Clohessy \& English (2022)}
\node[head] (h8) at (1075,1227) {Topic 8: Internal knowledge sharing};
\bitem{b8a}{1078}{1103}{1248}{Transformational learning (Education}
\bcont{b8b}{1103}{1266}{Institutions)}
\bitem{b8c}{1078}{1103}{1284}{Exploring sustainability risks management}
\bitem{b8d}{1078}{1103}{1302}{Exploring guidance}
\bitem{b8e}{1078}{1103}{1320}{Teamwork}
\bitem{b8f}{1078}{1103}{1339}{Perceptions of the learning value}
\end{tikzpicture}
\end{document}
